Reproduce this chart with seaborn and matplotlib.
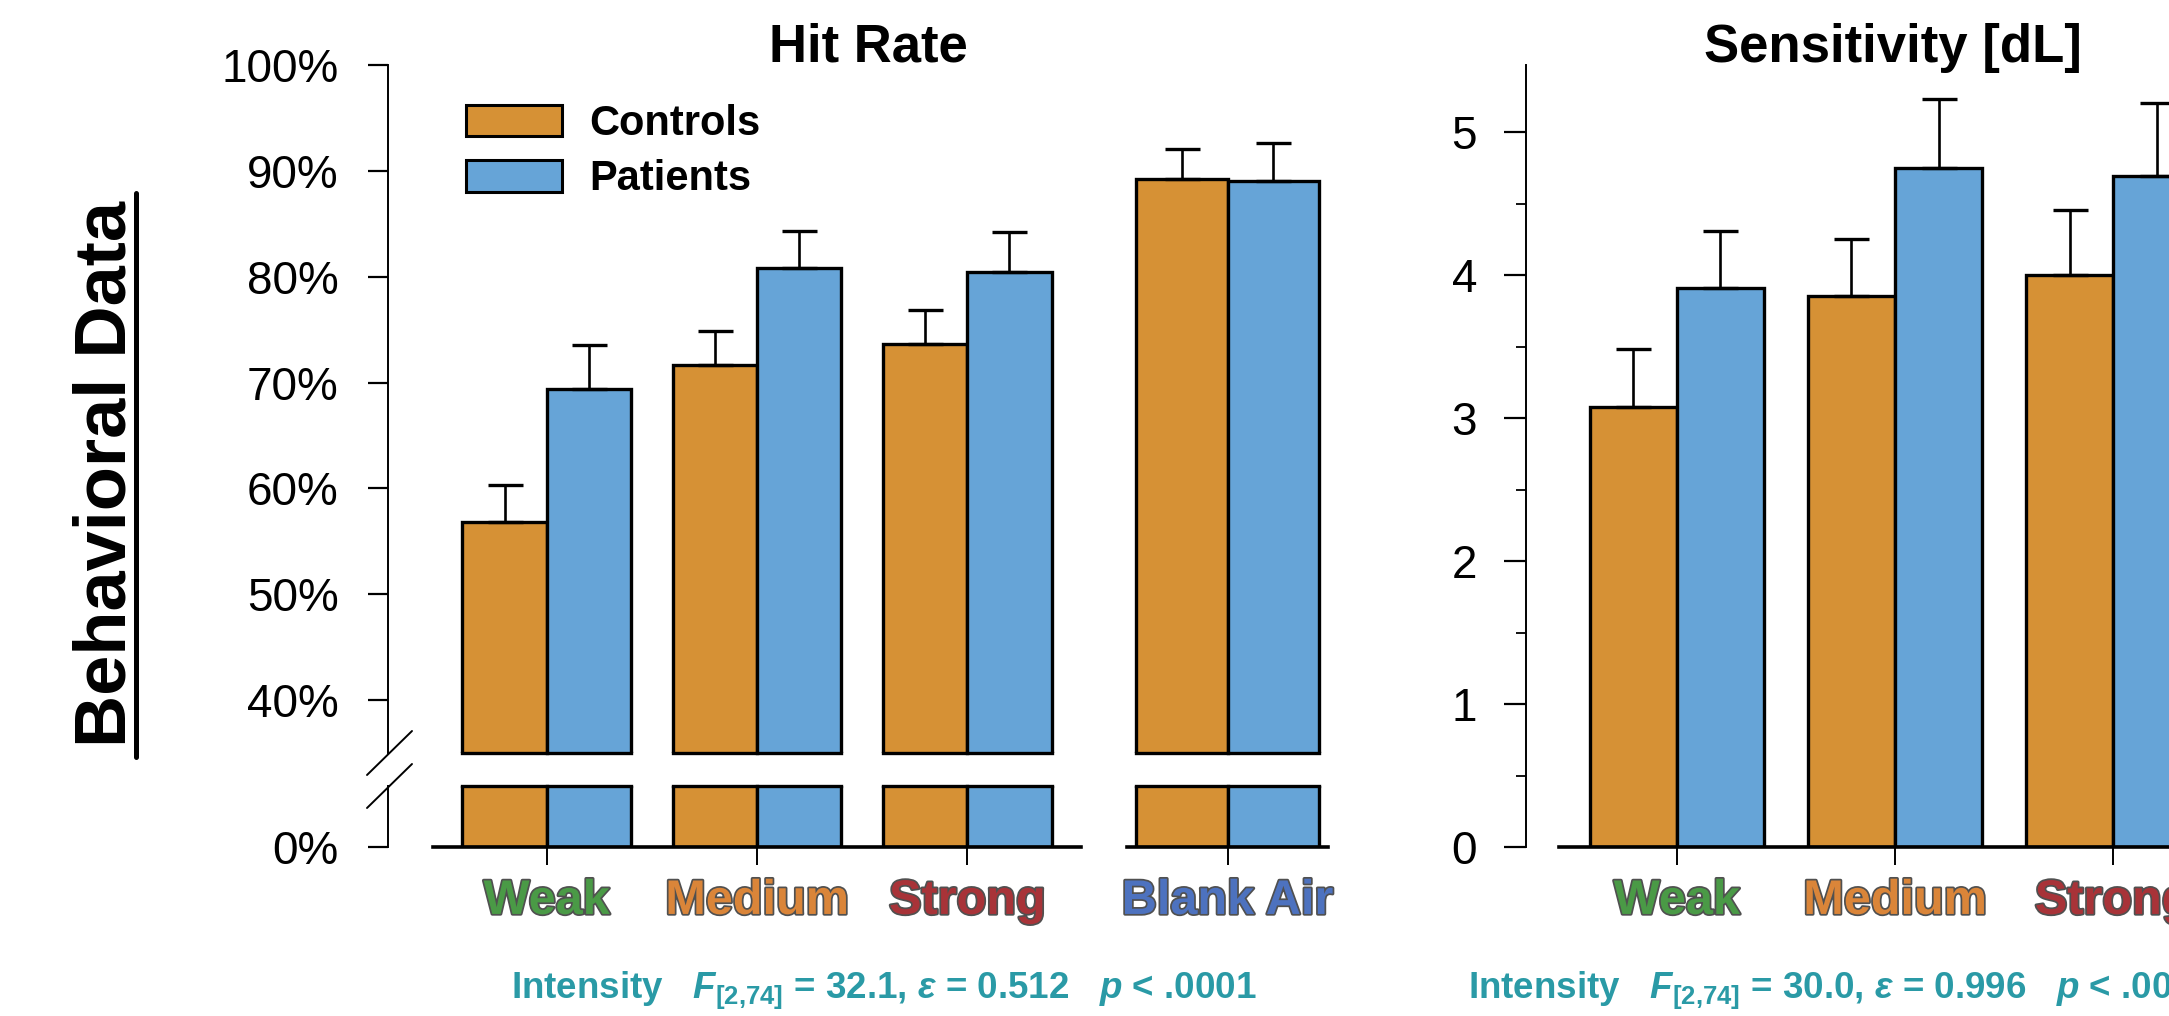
import numpy as np
import pandas as pd
import seaborn as sns
import matplotlib
matplotlib.use("Agg")
import matplotlib.pyplot as plt
from matplotlib import font_manager
from matplotlib.lines import Line2D
from matplotlib.patches import Patch
from matplotlib.ticker import FuncFormatter, MultipleLocator
import matplotlib.patheffects as pe

# ---------------- data ----------------
groups = ["Controls", "Patients"]
hit_categories = ["Weak", "Medium", "Strong", "Blank Air"]
hit_controls = [56.8, 71.7, 73.6, 89.2]
hit_controls_se = [3.5, 3.15, 3.3, 2.9]
hit_patients = [69.35, 80.85, 80.4, 89.0]
hit_patients_se = [4.15, 3.45, 3.85, 3.6]

dl_categories = ["Weak", "Medium", "Strong"]
dl_controls = [3.08, 3.85, 4.00]
dl_controls_se = [0.40, 0.40, 0.455]
dl_patients = [3.91, 4.745, 4.69]
dl_patients_se = [0.40, 0.485, 0.515]

hit_ticks = [0, 40, 50, 60, 70, 80, 90, 100]
dl_ticks = [0, 1, 2, 3, 4, 5]

stats_hit = r"Intensity   $\mathit{F}_{\mathrm{[2{,}74]}}$ = 32.1, $\mathit{ε}$ = 0.512   $\mathit{p}$ < .0001"
stats_dl = r"Intensity   $\mathit{F}_{\mathrm{[2{,}74]}}$ = 30.0, $\mathit{ε}$ = 0.996   $\mathit{p}$ < .0001"

group_colors = {"Controls": "#D69135", "Patients": "#66A4D7"}
label_colors = {"Weak": "#4A9A46", "Medium": "#DA8539", "Strong": "#A83338", "Blank Air": "#4D72BF"}
stats_color = "#2A9AA6"

# ---------------- style ----------------
sns.set_style("ticks")
names = {f.name for f in font_manager.fontManager.ttflist}
base_font = "Liberation Sans" if "Liberation Sans" in names else "DejaVu Sans"
plt.rcParams["font.family"] = [base_font, "DejaVu Sans"]
plt.rcParams["text.color"] = "black"
plt.rcParams["axes.labelcolor"] = "black"
plt.rcParams["xtick.color"] = "black"
plt.rcParams["ytick.color"] = "black"
plt.rcParams["axes.edgecolor"] = "black"
plt.rcParams["mathtext.fontset"] = "custom"
plt.rcParams["mathtext.rm"] = f"{base_font}:bold"
plt.rcParams["mathtext.bf"] = f"{base_font}:bold"
plt.rcParams["mathtext.it"] = f"{base_font}:italic:bold"

W, H, DPI = 2169, 1016, 100
fig = plt.figure(figsize=(W / DPI, H / DPI), dpi=DPI)
fig.patch.set_facecolor("white")


def px_axes(left, top, right, bottom):
    return fig.add_axes([left / W, 1 - bottom / H, (right - left) / W, (bottom - top) / H])


def fx(x):
    return x / W


def fy(y):
    return 1 - y / H


EDGE_LW = 2.4
TICK_FS = 33


def frame(values_c, values_p, cats):
    return pd.DataFrame({
        "condition": cats * 2,
        "group": ["Controls"] * len(cats) + ["Patients"] * len(cats),
        "value": list(values_c) + list(values_p),
    })


def bars(ax, df, cats, width):
    sns.barplot(data=df, x="condition", y="value", hue="group", order=cats,
                hue_order=groups, palette=group_colors, width=width, saturation=1,
                edgecolor="black", linewidth=EDGE_LW, errorbar=None, legend=False, ax=ax)
    ax.set_xlabel("")
    ax.set_ylabel("")


def errbars(ax, cats, vals_c, se_c, vals_p, se_p):
    n = len(cats)
    patches = ax.patches
    for k, (vals, ses) in enumerate([(vals_c, se_c), (vals_p, se_p)]):
        xs = [patches[k * n + i].get_x() + patches[k * n + i].get_width() / 2 for i in range(n)]
        ax.errorbar(xs, vals, yerr=[np.zeros(n), ses], fmt="none", ecolor="black",
                    elinewidth=1.9, capsize=12.6, capthick=2.4, zorder=1)


def cut_edges(ax, y):
    for p in ax.patches:
        x0 = p.get_x()
        ax.plot([x0, x0 + p.get_width()], [y, y], color="black", lw=EDGE_LW,
                solid_capstyle="projecting", clip_on=False, zorder=3)


def style_xlabels(ax):
    for t in ax.get_xticklabels():
        t.set_color(label_colors[t.get_text()])
        t.set_fontweight("bold")
        t.set_fontsize(35)
        t.set_path_effects([pe.withStroke(linewidth=2.5, foreground="#505050")])


# ---------------- Hit rate panel (broken axis) ----------------
UP_TOP, UP_BOT, LO_TOP, LO_BOT = 65, 753, 786, 847
PX_PER_PCT = (UP_BOT - UP_TOP) / 65.0
up_lim = (35.0, 100.0)
lo_lim = (0.0, (LO_BOT - LO_TOP) / PX_PER_PCT)

main_cats = hit_categories[:3]
air_cats = hit_categories[3:]
df_main = frame(hit_controls[:3], hit_patients[:3], main_cats)
df_air = frame(hit_controls[3:], hit_patients[3:], air_cats)

ax_up = px_axes(433, UP_TOP, 1081, UP_BOT)
ax_lo = px_axes(433, LO_TOP, 1081, LO_BOT)
ax_up2 = px_axes(1127, UP_TOP, 1328, UP_BOT)
ax_lo2 = px_axes(1127, LO_TOP, 1328, LO_BOT)

for ax, df, cats, w in [(ax_up, df_main, main_cats, 0.8), (ax_lo, df_main, main_cats, 0.8),
                        (ax_up2, df_air, air_cats, 0.806), (ax_lo2, df_air, air_cats, 0.806)]:
    bars(ax, df, cats, w)

errbars(ax_up, main_cats, hit_controls[:3], hit_controls_se[:3], hit_patients[:3], hit_patients_se[:3])
errbars(ax_up2, air_cats, hit_controls[3:], hit_controls_se[3:], hit_patients[3:], hit_patients_se[3:])

pct = FuncFormatter(lambda v, _: f"{v:.0f}%")
for ax in (ax_up, ax_up2):
    ax.set_ylim(*up_lim)
    for s in ("top", "right", "bottom"):
        ax.spines[s].set_visible(False)
    ax.set_xticks([])
    cut_edges(ax, up_lim[0])
for ax in (ax_lo, ax_lo2):
    ax.set_ylim(*lo_lim)
    for s in ("top", "right"):
        ax.spines[s].set_visible(False)
    ax.spines["bottom"].set_linewidth(2.6)
    ax.tick_params(axis="x", length=13, width=1.4, pad=10, color="black")
    style_xlabels(ax)
    cut_edges(ax, lo_lim[1])

ax_up.set_yticks([t for t in hit_ticks if t >= 40])
ax_lo.set_yticks([t for t in hit_ticks if t < 40])
for ax in (ax_up, ax_lo):
    ax.spines["left"].set_position(("outward", 32.4))
    ax.spines["left"].set_linewidth(1.4)
    ax.yaxis.set_major_formatter(pct)
    ax.tick_params(axis="y", length=14.4, width=1.6, pad=21, labelsize=TICK_FS, color="black")
for ax in (ax_up2, ax_lo2):
    ax.spines["left"].set_visible(False)
    ax.set_yticks([])

# axis break marks
for y0 in (775, 808):
    fig.add_artist(Line2D([fx(367), fx(412)], [fy(y0), fy(y0 - 44)], color="black", lw=1.4))

ax_up.legend(handles=[Patch(facecolor=group_colors[g], edgecolor="black", linewidth=2.2) for g in groups],
             labels=groups, loc="upper left", bbox_to_anchor=(fx(466), fy(104)),
             bbox_transform=fig.transFigure, frameon=False,
             prop={"family": base_font, "weight": "bold", "size": 30},
             handlelength=2.3, handleheight=0.8, handletextpad=0.65, labelspacing=0.37,
             borderpad=0, borderaxespad=0)

fig.text(fx(868), fy(62), "Hit Rate", ha="center", va="baseline", fontsize=38, fontweight="bold")
fig.text(fx(511), fy(998), stats_hit, ha="left", va="baseline", fontsize=26.5,
         fontweight="bold", color=stats_color)

# ---------------- Sensitivity panel ----------------
PX_PER_UNIT = 143.0
ax_dl = px_axes(1559, 65, 1559 + 3 * 224, 847)
df_dl = frame(dl_controls, dl_patients, dl_categories)
bars(ax_dl, df_dl, dl_categories, 0.8)
errbars(ax_dl, dl_categories, dl_controls, dl_controls_se, dl_patients, dl_patients_se)
ax_dl.set_ylim(0, (847 - 65) / PX_PER_UNIT)
ax_dl.set_yticks(dl_ticks)
ax_dl.yaxis.set_minor_locator(MultipleLocator(0.5))
for s in ("top", "right"):
    ax_dl.spines[s].set_visible(False)
ax_dl.spines["left"].set_position(("outward", 23.8))
ax_dl.spines["left"].set_linewidth(1.4)
ax_dl.spines["bottom"].set_linewidth(2.6)
ax_dl.tick_params(axis="y", which="major", length=15.8, width=1.6, pad=19.4, labelsize=TICK_FS, color="black")
ax_dl.tick_params(axis="y", which="minor", length=7.2, width=1.3, color="black")
ax_dl.tick_params(axis="x", length=13, width=1.4, pad=10, color="black")
style_xlabels(ax_dl)

fig.text(fx(1893), fy(62), "Sensitivity [dL]", ha="center", va="baseline", fontsize=38, fontweight="bold")
fig.text(fx(1468), fy(998), stats_dl, ha="left", va="baseline", fontsize=26.5,
         fontweight="bold", color=stats_color)

# ---------------- row label ----------------
fig.text(fx(141), fy(474), "Behavioral Data", rotation=90, ha="right", va="center",
         fontsize=52, fontweight="bold")
fig.add_artist(Line2D([fx(136), fx(136)], [fy(193), fy(757)], color="black", lw=3.6))

fig.savefig("out.png", dpi=DPI, facecolor="white")
